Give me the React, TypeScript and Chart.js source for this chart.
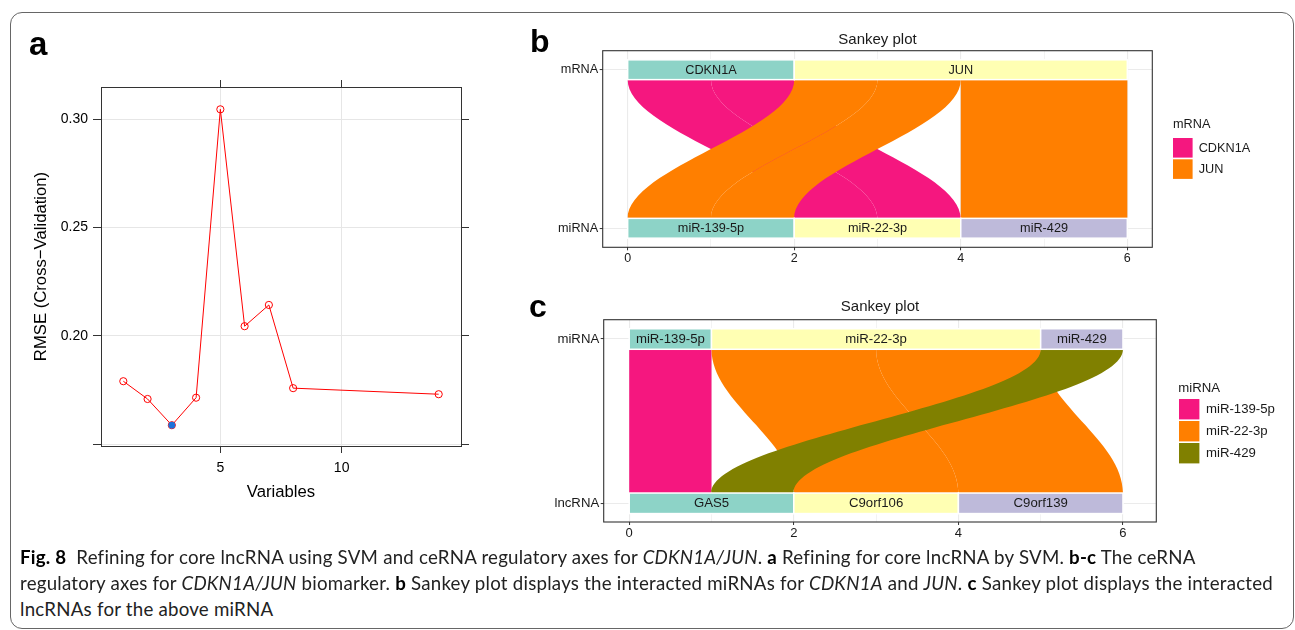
import React, { useEffect, useRef } from 'react';
import { Chart, registerables } from 'chart.js';

Chart.register(...registerables);

const FONT = "'Liberation Sans', Arial, Helvetica, sans-serif";

// ---------- Panel a : SVM refinement ----------
const variables = [1, 2, 3, 4, 5, 6, 7, 8, 14];
const rmse = [0.1791, 0.1709, 0.1588, 0.1715, 0.3046, 0.2045, 0.2143, 0.1759, 0.1731];
const bestIndex = 2;
const aXTicks = [5, 10];
const aXTickLabels = ['5', '10'];
const aYTicks = [0.15, 0.2, 0.25, 0.3];
const aYTickLabels = ['', '0.20', '0.25', '0.30'];

// ---------- Panel b : mRNA -> miRNA ----------
const bTopNodes = ['CDKN1A', 'JUN'];
const bBottomNodes = ['miR-139-5p', 'miR-22-3p', 'miR-429'];
const bFlowFrom = ['CDKN1A', 'CDKN1A', 'JUN', 'JUN', 'JUN'];
const bFlowTo = ['miR-22-3p', 'miR-22-3p', 'miR-139-5p', 'miR-139-5p', 'miR-429'];
const bFlowValue = [1, 1, 1, 1, 2];
const bAxisLabels = ['miRNA', 'mRNA'];
const bFlowColors = ['#F5177F', '#FF7F00'];

// ---------- Panel c : miRNA -> lncRNA ----------
const cTopNodes = ['miR-139-5p', 'miR-22-3p', 'miR-429'];
const cBottomNodes = ['GAS5', 'C9orf106', 'C9orf139'];
const cFlowFrom = ['miR-139-5p', 'miR-22-3p', 'miR-22-3p', 'miR-429'];
const cFlowTo = ['GAS5', 'C9orf106', 'C9orf139', 'GAS5'];
const cFlowValue = [1, 2, 2, 1];
const cAxisLabels = ['lncRNA', 'miRNA'];
const cFlowColors = ['#F5177F', '#FF7F00', '#808000'];

const sankeyXTicks = [0, 1, 2, 3, 4, 5, 6];
const sankeyXLabels = ['0', '', '2', '', '4', '', '6'];
const strataColors = ['#8DD3C7', '#FFFFB3', '#BEBADA'];

type SankeyCfg = {
  top: string[]; bottom: string[]; from: string[]; to: string[]; value: number[];
  flowColors: string[]; title: string; titleGap: number; legendTitle: string;
  fontSize: number; boxHalf: number; curve: number;
  legend: { titleX: number; titleY: number; keyX: number; keyTop: number; keySize: number; keyStep: number; labelX: number };
};

function layoutSankey(cfg: SankeyCfg) {
  const topSpan: Record<string, [number, number]> = {};
  const botSpan: Record<string, [number, number]> = {};
  let acc = 0;
  cfg.top.forEach((n) => {
    const tot = cfg.value.reduce((s, v, i) => s + (cfg.from[i] === n ? v : 0), 0);
    topSpan[n] = [acc, acc + tot];
    acc += tot;
  });
  acc = 0;
  cfg.bottom.forEach((n) => {
    const tot = cfg.value.reduce((s, v, i) => s + (cfg.to[i] === n ? v : 0), 0);
    botSpan[n] = [acc, acc + tot];
    acc += tot;
  });
  const lodes = cfg.from.map((f, i) => ({ i, f, t: cfg.to[i], v: cfg.value[i], top: [0, 0], bot: [0, 0] }));
  cfg.top.forEach((n) => {
    let o = topSpan[n][0];
    lodes.filter((l) => l.f === n)
      .sort((a, b) => cfg.bottom.indexOf(a.t) - cfg.bottom.indexOf(b.t))
      .forEach((l) => { l.top = [o, o + l.v]; o += l.v; });
  });
  cfg.bottom.forEach((n) => {
    let o = botSpan[n][0];
    lodes.filter((l) => l.t === n)
      .sort((a, b) => cfg.top.indexOf(a.f) - cfg.top.indexOf(b.f))
      .forEach((l) => { l.bot = [o, o + l.v]; o += l.v; });
  });
  return { topSpan, botSpan, lodes };
}

function makeSankeyPlugin(cfg: SankeyCfg) {
  return {
    id: 'sankeyDraw',
    afterDatasetsDraw(chart: any) {
      const { ctx } = chart;
      const xs = chart.scales.x;
      const ys = chart.scales.y;
      const L = layoutSankey(cfg);
      const hh = cfg.boxHalf;
      const yT = ys.getPixelForValue(1 - hh);
      const yB = ys.getPixelForValue(hh);
      const dy = yB - yT;
      const k = cfg.curve;
      ctx.save();
      L.lodes.forEach((l) => {
        const x0 = xs.getPixelForValue(l.top[0]);
        const x1 = xs.getPixelForValue(l.top[1]);
        const b0 = xs.getPixelForValue(l.bot[0]);
        const b1 = xs.getPixelForValue(l.bot[1]);
        ctx.fillStyle = cfg.flowColors[cfg.top.indexOf(l.f)];
        ctx.beginPath();
        ctx.moveTo(x0, yT);
        ctx.bezierCurveTo(x0, yT + k * dy, b0, yB - k * dy, b0, yB);
        ctx.lineTo(b1, yB);
        ctx.bezierCurveTo(b1, yB - k * dy, x1, yT + k * dy, x1, yT);
        ctx.closePath();
        ctx.fill();
      });
      const drawRow = (nodes: string[], spans: Record<string, [number, number]>, yc: number) => {
        nodes.forEach((n, i) => {
          const l = xs.getPixelForValue(spans[n][0]);
          const r = xs.getPixelForValue(spans[n][1]);
          const t = ys.getPixelForValue(yc + hh);
          const b = ys.getPixelForValue(yc - hh);
          ctx.fillStyle = strataColors[i % strataColors.length];
          ctx.fillRect(l, t, r - l, b - t);
          ctx.strokeStyle = '#ffffff';
          ctx.lineWidth = 1.5;
          ctx.strokeRect(l, t, r - l, b - t);
          ctx.fillStyle = '#1a1a1a';
          ctx.font = `${cfg.fontSize}px ${FONT}`;
          ctx.textAlign = 'center';
          ctx.textBaseline = 'middle';
          ctx.fillText(n, (l + r) / 2, (t + b) / 2 + 0.5);
        });
      };
      drawRow(cfg.top, L.topSpan, 1);
      drawRow(cfg.bottom, L.botSpan, 0);
      ctx.restore();
    },
    afterDraw(chart: any) {
      const { ctx, chartArea: ca } = chart;
      ctx.save();
      ctx.strokeStyle = '#333333';
      ctx.lineWidth = 1.1;
      ctx.strokeRect(ca.left, ca.top, ca.right - ca.left, ca.bottom - ca.top);
      ctx.fillStyle = '#1a1a1a';
      ctx.font = `15px ${FONT}`;
      ctx.textAlign = 'center';
      ctx.textBaseline = 'middle';
      ctx.fillText(cfg.title, (ca.left + ca.right) / 2, ca.top - cfg.titleGap);
      const lg = cfg.legend;
      ctx.textAlign = 'left';
      ctx.font = `${cfg.fontSize}px ${FONT}`;
      ctx.fillText(cfg.legendTitle, lg.titleX, lg.titleY);
      cfg.top.forEach((n, i) => {
        const y = lg.keyTop + i * lg.keyStep;
        ctx.fillStyle = cfg.flowColors[i];
        ctx.fillRect(lg.keyX, y, lg.keySize, lg.keySize);
        ctx.fillStyle = '#1a1a1a';
        ctx.fillText(n, lg.labelX, y + lg.keySize / 2 + 0.5);
      });
      ctx.restore();
    },
  };
}

function sankeyOptions(o: {
  xMin: number; xMax: number; yMin: number; yMax: number; yLabels: string[];
  padTop: number; padRight: number; yWidth: number; xHeight: number; fontSize: number;
}) {
  return {
    animation: false as const,
    responsive: false,
    maintainAspectRatio: false,
    events: [] as any[],
    layout: { padding: { top: o.padTop, right: o.padRight, left: 0, bottom: 0 }, autoPadding: false },
    plugins: { legend: { display: false }, tooltip: { enabled: false }, title: { display: false } },
    scales: {
      x: {
        type: 'linear' as const,
        position: 'bottom' as const,
        min: o.xMin,
        max: o.xMax,
        afterBuildTicks: (s: any) => { s.ticks = sankeyXTicks.map((v) => ({ value: v })); },
        afterFit: (s: any) => { s.height = o.xHeight; },
        grid: {
          color: '#EBEBEB',
          lineWidth: (c: any) => (sankeyXLabels[c.index] === '' ? 0.6 : 1.1),
          tickLength: 3,
          tickWidth: 1,
          tickColor: (c: any) => (sankeyXLabels[c.index] === '' ? 'rgba(0,0,0,0)' : '#333333'),
        },
        border: { display: false },
        ticks: {
          autoSkip: false, maxRotation: 0, padding: 1,
          color: '#1a1a1a', font: { family: FONT, size: o.fontSize - 0.2 },
          callback: (_v: any, i: number) => sankeyXLabels[i],
        },
      },
      y: {
        type: 'linear' as const,
        position: 'left' as const,
        min: o.yMin,
        max: o.yMax,
        afterBuildTicks: (s: any) => { s.ticks = o.yLabels.map((_l, i) => ({ value: i })); },
        afterFit: (s: any) => { s.width = o.yWidth; },
        grid: { color: '#EBEBEB', lineWidth: 1.1, tickLength: 3, tickWidth: 1, tickColor: '#333333' },
        border: { display: false },
        ticks: {
          autoSkip: false, padding: 1.5,
          color: '#1a1a1a', font: { family: FONT, size: o.fontSize },
          callback: (_v: any, i: number) => o.yLabels[i],
        },
      },
    },
  };
}

const captionTargets = [1175, 1253];

export default function App() {
  const aRef = useRef<HTMLCanvasElement | null>(null);
  const bRef = useRef<HTMLCanvasElement | null>(null);
  const cRef = useRef<HTMLCanvasElement | null>(null);
  const lineRefs = useRef<(HTMLSpanElement | null)[]>([]);

  useEffect(() => {
    const charts: Chart[] = [];
    if (aRef.current) {
      charts.push(new Chart(aRef.current, {
        type: 'scatter',
        data: {
          datasets: [
            {
              data: variables.map((v, i) => ({ x: v, y: rmse[i] })),
              showLine: true,
              borderColor: '#ff0000',
              borderWidth: 1,
              pointRadius: 3.6,
              pointBorderColor: '#ff0000',
              pointBackgroundColor: 'rgba(0,0,0,0)',
              pointBorderWidth: 1,
              order: 2,
            },
            {
              data: [{ x: variables[bestIndex], y: rmse[bestIndex] }],
              showLine: false,
              pointRadius: 3.4,
              pointBackgroundColor: '#1f72d9',
              pointBorderColor: '#1f72d9',
              pointBorderWidth: 0,
              order: 1,
            },
          ],
        },
        options: {
          animation: false,
          responsive: false,
          maintainAspectRatio: false,
          events: [],
          layout: { padding: 0, autoPadding: false },
          plugins: { legend: { display: false }, tooltip: { enabled: false } },
          scales: {
            x: {
              type: 'linear', position: 'bottom', min: 0.08, max: 14.92,
              afterBuildTicks: (s: any) => { s.ticks = aXTicks.map((v) => ({ value: v })); },
              afterFit: (s: any) => { s.height = 74; },
              grid: { color: '#e6e6e6', lineWidth: 1, tickLength: 7, tickColor: '#333333', tickWidth: 1 },
              border: { color: '#333333', width: 1 },
              ticks: {
                autoSkip: false, maxRotation: 0, padding: 6.5, color: '#000',
                font: { family: FONT, size: 14 },
                callback: (_v: any, i: number) => aXTickLabels[i],
              },
              title: { display: true, text: 'Variables', color: '#000', font: { family: FONT, size: 16.7 }, padding: { top: 0, bottom: 17.5 } },
            },
            x2: {
              type: 'linear', position: 'top', min: 0.08, max: 14.92,
              afterBuildTicks: (s: any) => { s.ticks = aXTicks.map((v) => ({ value: v })); },
              afterFit: (s: any) => { s.height = 87; },
              grid: { drawOnChartArea: false, tickLength: 7, tickColor: '#333333', tickWidth: 1 },
              border: { color: '#333333', width: 1 },
              ticks: { display: false },
            },
            y: {
              type: 'linear', position: 'left', min: 0.1492, max: 0.3149,
              afterBuildTicks: (s: any) => { s.ticks = aYTicks.map((v) => ({ value: v })); },
              afterFit: (s: any) => { s.width = 101; },
              grid: { color: '#e6e6e6', lineWidth: 1, tickLength: 8, tickColor: '#333333', tickWidth: 1 },
              border: { color: '#333333', width: 1 },
              ticks: {
                autoSkip: false, padding: 5, color: '#000',
                font: { family: FONT, size: 14 },
                callback: (_v: any, i: number) => aYTickLabels[i],
              },
              title: { display: true, text: 'RMSE (Cross\u2212Validation)', color: '#000', font: { family: FONT, size: 16.7 }, padding: { top: 31, bottom: 0 } },
            },
            y2: {
              type: 'linear', position: 'right', min: 0.1492, max: 0.3149,
              afterBuildTicks: (s: any) => { s.ticks = aYTicks.map((v) => ({ value: v })); },
              afterFit: (s: any) => { s.width = 59; },
              grid: { drawOnChartArea: false, tickLength: 8, tickColor: '#333333', tickWidth: 1 },
              border: { color: '#333333', width: 1 },
              ticks: { display: false },
            },
          },
        } as any,
      }));
    }
    if (bRef.current) {
      const cfg: SankeyCfg = {
        top: bTopNodes, bottom: bBottomNodes, from: bFlowFrom, to: bFlowTo, value: bFlowValue,
        flowColors: bFlowColors, title: 'Sankey plot', titleGap: 11, legendTitle: 'mRNA',
        fontSize: 12.7, boxHalf: 0.0625, curve: 0.37,
        legend: { titleX: 653, titleY: 104, keyX: 653, keyTop: 118, keySize: 19.6, keyStep: 21.3, labelX: 678.7 },
      };
      charts.push(new Chart(bRef.current, {
        type: 'scatter',
        data: { datasets: [] },
        options: sankeyOptions({
          xMin: -0.3, xMax: 6.3, yMin: -0.12, yMax: 1.12, yLabels: bAxisLabels,
          padTop: 30.7, padRight: 142.7, yWidth: 82.7, xHeight: 22.7, fontSize: 12.7,
        }) as any,
        plugins: [makeSankeyPlugin(cfg)],
      }));
    }
    if (cRef.current) {
      const cfg: SankeyCfg = {
        top: cTopNodes, bottom: cBottomNodes, from: cFlowFrom, to: cFlowTo, value: cFlowValue,
        flowColors: cFlowColors, title: 'Sankey plot', titleGap: 12.7, legendTitle: 'miRNA',
        fontSize: 13.2, boxHalf: 0.0625, curve: 0.37,
        legend: { titleX: 658.3, titleY: 103.3, keyX: 659, keyTop: 114, keySize: 20.4, keyStep: 22, labelX: 686 },
      };
      charts.push(new Chart(cRef.current, {
        type: 'scatter',
        data: { datasets: [] },
        options: sankeyOptions({
          xMin: -0.31, xMax: 6.405, yMin: -0.1138, yMax: 1.1175, yLabels: cAxisLabels,
          padTop: 34.7, padRight: 138.7, yWidth: 83.7, xHeight: 23, fontSize: 13.2,
        }) as any,
        plugins: [makeSankeyPlugin(cfg)],
      }));
    }
    return () => { charts.forEach((c) => c.destroy()); };
  }, []);

  useEffect(() => {
    const fit = () => {
      const spacings: number[] = [];
      lineRefs.current.forEach((el, i) => {
        if (!el) return;
        el.style.letterSpacing = '0px';
        const w = el.getBoundingClientRect().width;
        const n = (el.textContent || '').length;
        const target = captionTargets[i];
        if (target) {
          const sp = (target - w) / n;
          spacings.push(sp);
          el.style.letterSpacing = sp + 'px';
        } else if (spacings.length) {
          el.style.letterSpacing = (spacings.reduce((a, b) => a + b, 0) / spacings.length) + 'px';
        }
      });
    };
    fit();
    const fonts: any = (document as any).fonts;
    if (fonts && fonts.ready) fonts.ready.then(fit);
  }, []);

  const capFont = "Lato, 'Open Sans', 'Noto Sans', sans-serif";
  const lineStyle: React.CSSProperties = {
    position: 'absolute', left: 20, whiteSpace: 'nowrap', display: 'inline-block',
    fontFamily: capFont, fontSize: 18.7, lineHeight: '26px', color: '#222',
  };
  const letter: React.CSSProperties = {
    position: 'absolute', fontFamily: FONT, fontWeight: 'bold', color: '#000', lineHeight: '32px', fontSize: 32,
  };

  return (
    <div style={{ position: 'absolute', left: 0, top: 0, width: 1295, height: 630, background: '#fff', overflow: 'hidden' }}>
      <div style={{
        position: 'absolute', left: 10, top: 12, width: 1284, height: 617, boxSizing: 'border-box',
        border: '1.5px solid #666', borderRadius: 12,
      }} />
      <canvas ref={aRef} width={520} height={520} style={{ position: 'absolute', left: 0, top: 0 }} />
      <canvas ref={bRef} width={775} height={250} style={{ position: 'absolute', left: 520, top: 20 }} />
      <canvas ref={cRef} width={775} height={260} style={{ position: 'absolute', left: 520, top: 285 }} />
      <div style={{ ...letter, left: 29, top: 27, fontSize: 33, lineHeight: '33px' }}>a</div>
      <div style={{ ...letter, left: 530, top: 25 }}>b</div>
      <div style={{ ...letter, left: 529, top: 290 }}>c</div>
      <span ref={(el) => { lineRefs.current[0] = el; }} style={{ ...lineStyle, top: 544 }}>
        <b style={{ color: '#000' }}>Fig. 8</b>{'\u00a0\u00a0'}Refining for core lncRNA using SVM and ceRNA regulatory axes for <i>CDKN1A/JUN</i>. <b style={{ color: '#000' }}>a</b> Refining for core lncRNA by SVM. <b style={{ color: '#000' }}>b-c</b> The ceRNA
      </span>
      <span ref={(el) => { lineRefs.current[1] = el; }} style={{ ...lineStyle, top: 570 }}>
        regulatory axes for <i>CDKN1A/JUN</i> biomarker. <b style={{ color: '#000' }}>b</b> Sankey plot displays the interacted miRNAs for <i>CDKN1A</i> and <i>JUN</i>. <b style={{ color: '#000' }}>c</b> Sankey plot displays the interacted
      </span>
      <span ref={(el) => { lineRefs.current[2] = el; }} style={{ ...lineStyle, top: 596 }}>
        lncRNAs for the above miRNA
      </span>
    </div>
  );
}
